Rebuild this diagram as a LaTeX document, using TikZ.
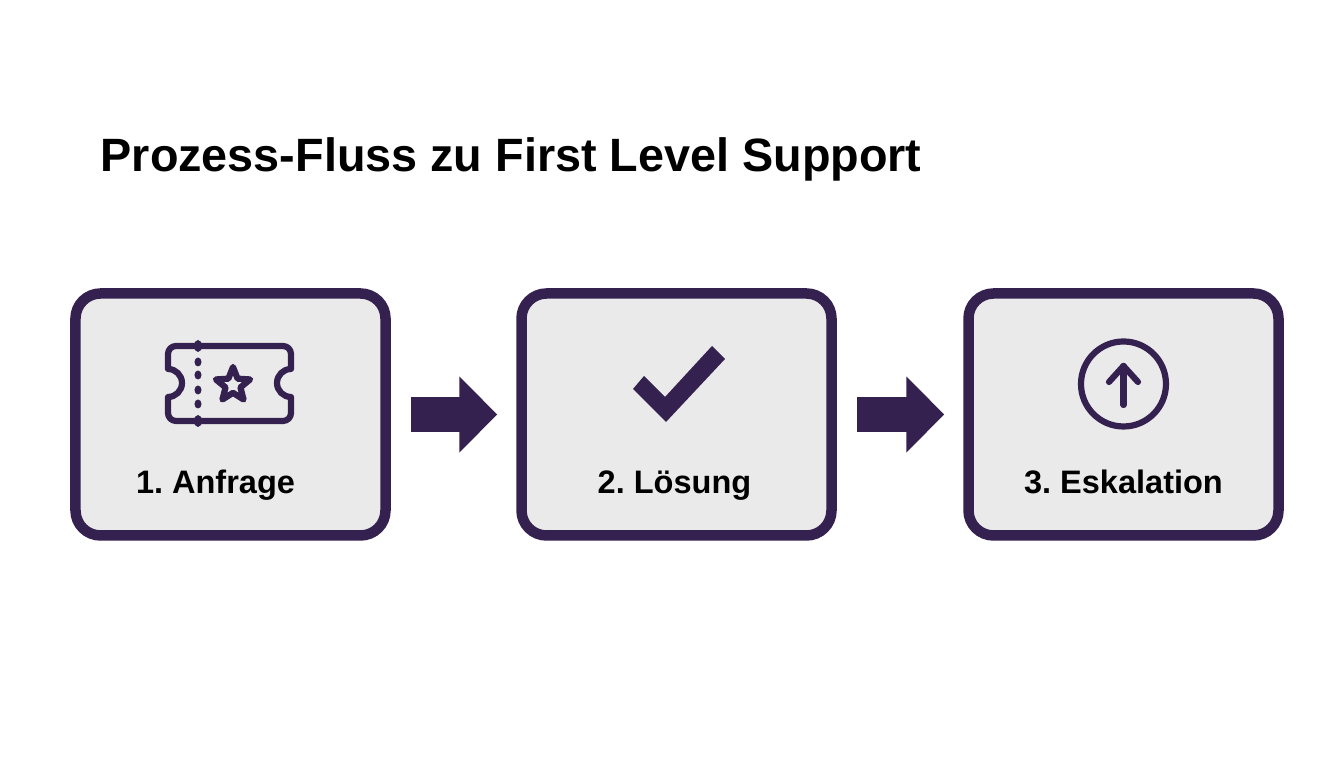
\documentclass[tikz,border=0pt]{standalone}
\usepackage{fontspec}
\setmainfont{Liberation Sans}
\usepackage{tikz}
\usetikzlibrary{arrows.meta,shapes.geometric}
\definecolor{supportviolet}{HTML}{35214F}
\definecolor{boxgray}{HTML}{EAEAEA}
\tikzset{
	stepbox/.style={draw=supportviolet, fill=boxgray, line width=1.05mm, rounded corners=2.5mm, minimum width=3.10cm, minimum height=2.42cm, inner sep=0},
	steplabel/.style={anchor=base, inner sep=0, font=\frenchspacing\bfseries\fontsize{9.25pt}{11pt}\selectfont},
	stepflow/.style={draw=supportviolet, line width=3.5mm, shorten <=2mm, shorten >=1.9mm, -{Triangle[length=3.8mm,width=7.4mm]}},
	iconline/.style={draw=supportviolet, line width=0.62mm, line cap=round, line join=round},
}

\begin{document}
\begin{tikzpicture}
				\useasboundingbox (0,0) rectangle (13.44,7.68);
				
				\node[anchor=base west, inner sep=0, font=\bfseries\fontsize{13.3pt}{15pt}\selectfont] (title) at (1.00,5.96) {Prozess-Fluss zu First Level Support};
				
				\node[stepbox] (anfrage) at (2.305,3.535) {};
				\node[stepbox] (loesung) at (6.765,3.535) {};
				\node[stepbox] (eskalation) at (11.235,3.535) {};
				
				\draw[stepflow] (anfrage.east) -- (loesung.west);
				\draw[stepflow] (loesung.east) -- (eskalation.west);
				
				\draw[iconline] (1.76,4.22) -- (2.83,4.22) arc (90:0:0.08) -- (2.91,3.99) arc (90:270:0.14) -- (2.91,3.55) arc (0:-90:0.08) -- (1.76,3.47) arc (270:180:0.08) -- (1.68,3.71) arc (-90:90:0.14) -- (1.68,4.14) arc (180:90:0.08) -- cycle;
				\draw[fill=supportviolet, draw=none] (1.98,4.22) ellipse (0.04 and 0.06);
				\draw[fill=supportviolet, draw=none] (1.98,4.06) ellipse (0.035 and 0.045);
				\draw[fill=supportviolet, draw=none] (1.98,3.93) ellipse (0.035 and 0.045);
				\draw[fill=supportviolet, draw=none] (1.98,3.78) ellipse (0.035 and 0.045);
				\draw[fill=supportviolet, draw=none] (1.98,3.64) ellipse (0.035 and 0.045);
				\draw[fill=supportviolet, draw=none] (1.98,3.47) ellipse (0.04 and 0.06);
				\node[star, star points=5, star point ratio=2.3, iconline, minimum size=0.36cm, inner sep=0] (ticketstar) at (2.33,3.83) {};
				\node[steplabel] (anfragelabel) at (2.155,2.745) {1. Anfrage};
				
				\fill[supportviolet] (6.33,3.79) -- (6.44,3.92) -- (6.65,3.71) -- (7.12,4.22) -- (7.25,4.09) -- (6.66,3.46) -- cycle;
				\node[steplabel] (loesunglabel) at (6.745,2.745) {2. Lösung};
				
				\draw[iconline] (11.235,3.84) circle (0.425);
				\draw[iconline] (11.235,3.63) -- (11.235,4.02);
				\draw[iconline] (11.09,3.86) -- (11.235,4.02) -- (11.38,3.86);
				\node[steplabel] (eskalationlabel) at (11.235,2.745) {3. Eskalation};
			\end{tikzpicture}
\end{document}
